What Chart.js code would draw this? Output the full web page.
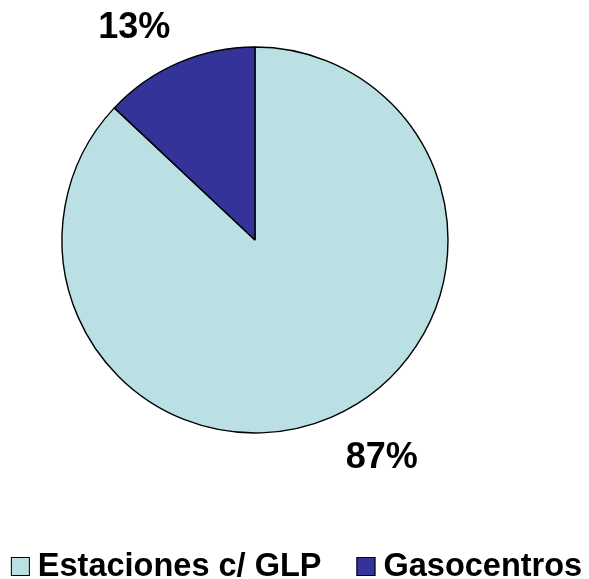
<!DOCTYPE html>
<html>
<head>
<meta charset="utf-8">
<script src="https://cdn.jsdelivr.net/npm/chart.js@4"></script>
<style>
  html, body { margin: 0; padding: 0; background: #fff; }
  #wrap { width: 589px; height: 579px; }
</style>
</head>
<body>
<div id="wrap"><canvas id="pieChart" width="589" height="579"></canvas></div>
<script>
// datos del gráfico
const categories = ["Estaciones c/ GLP", "Gasocentros"];
const shares = [87, 13];
const sliceColors = ["#BBE0E3", "#333399"];

const FONT = '"Liberation Sans", Arial, Helvetica, sans-serif';

// etiquetas de porcentaje fuera del círculo
const percentLabels = {
  id: "percentLabels",
  afterDatasetsDraw(chart) {
    const ctx = chart.ctx;
    const meta = chart.getDatasetMeta(0);
    const size = 36;
    ctx.save();
    ctx.font = "bold " + size + "px " + FONT;
    ctx.fillStyle = "#000";
    ctx.textAlign = "center";
    ctx.textBaseline = "alphabetic";
    meta.data.forEach((arc, i) => {
      const p = arc.getProps(["x", "y", "startAngle", "endAngle", "outerRadius"], true);
      const mid = (p.startAngle + p.endAngle) / 2;
      const px = p.x + Math.cos(mid) * p.outerRadius;
      const py = p.y + Math.sin(mid) * p.outerRadius;
      const text = shares[i] + "%";
      const w = ctx.measureText(text).width;
      const sx = Math.cos(mid) < 0 ? -1 : 1;
      const sy = Math.sin(mid) < 0 ? -1 : 1;
      const cx = px + sx * (w / 2 + (sx < 0 ? 8 : 14));
      const cy = py + sy * (13 + 24.5);
      ctx.fillText(text, cx, cy + 0.358 * size);
    });
    ctx.restore();
  },
};

// leyenda inferior dibujada a mano
const bottomLegend = {
  id: "bottomLegend",
  afterDraw(chart) {
    const ctx = chart.ctx;
    const box = 19;
    const gap = 8;
    const spacing = 35;
    ctx.save();
    ctx.font = "bold 32.5px " + FONT;
    const widths = categories.map((c) => ctx.measureText(c).width);
    let total = 0;
    widths.forEach((w, i) => {
      total += box + gap + w + (i > 0 ? spacing : 0);
    });
    let x = (chart.width - total) / 2 + 2;
    const baseline = chart.height - 3;
    categories.forEach((c, i) => {
      ctx.fillStyle = sliceColors[i];
      ctx.fillRect(x, baseline - box, box, box);
      ctx.strokeStyle = "#000";
      ctx.lineWidth = 1;
      ctx.strokeRect(x + 0.5, baseline - box + 0.5, box - 1, box - 1);
      ctx.fillStyle = "#000";
      ctx.textAlign = "left";
      ctx.textBaseline = "alphabetic";
      ctx.fillText(c, x + box + gap, baseline);
      x += box + gap + widths[i] + spacing;
    });
    ctx.restore();
  },
};

new Chart(document.getElementById("pieChart"), {
  type: "pie",
  data: {
    labels: categories,
    datasets: [
      {
        data: shares,
        backgroundColor: sliceColors,
        borderColor: "#000",
        borderWidth: 1.4,
      },
    ],
  },
  options: {
    responsive: false,
    animation: false,
    radius: 193,
    layout: {
      padding: { left: 0, right: 79, top: 0, bottom: 99 },
    },
    plugins: {
      legend: { display: false },
      tooltip: { enabled: false },
    },
  },
  plugins: [percentLabels, bottomLegend],
});
</script>
</body>
</html>
